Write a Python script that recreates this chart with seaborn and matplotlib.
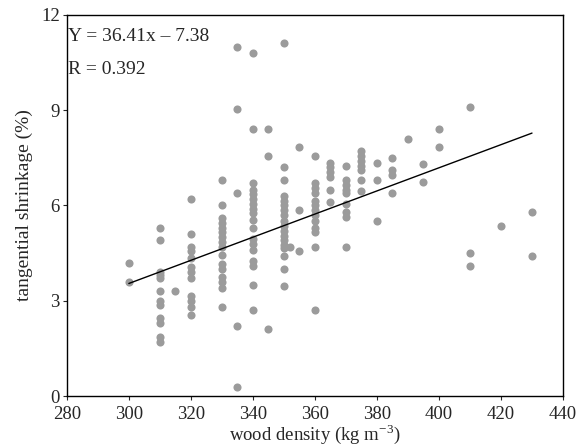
import pandas as pd
import seaborn as sns
import matplotlib.pyplot as plt

# wood density groups (kg m-3) and shrinkage readings (%) in each group
densities = [300, 310, 315, 320, 330, 335, 340, 345, 350, 352, 355,
             360, 365, 370, 375, 380, 385, 390, 395, 400, 410, 420, 430]
shrinkage = [
    [4.2, 3.6],
    [5.3, 4.9, 3.9, 3.8, 3.7, 3.3, 3.0, 2.85, 2.45, 2.3, 1.85, 1.7],
    [3.3],
    [6.2, 5.1, 4.7, 4.55, 4.35, 4.05, 3.9, 3.7, 3.15, 3.0, 2.8, 2.55],
    [6.8, 6.0, 5.6, 5.45, 5.3, 5.15, 5.0, 4.85, 4.7, 4.45, 4.15, 4.0, 3.75, 3.6, 3.4, 2.8],
    [11.0, 9.05, 6.4, 2.2, 0.3],
    [10.8, 8.4, 6.7, 6.5, 6.35, 6.2, 6.05, 5.9, 5.75, 5.55, 5.3, 4.95, 4.8, 4.6, 4.25, 4.1, 3.5, 2.7],
    [8.4, 7.55, 2.1],
    [11.1, 7.2, 6.8, 6.3, 6.15, 6.0, 5.85, 5.7, 5.5, 5.35, 5.2, 5.05, 4.9, 4.75, 4.65, 4.4, 4.0, 3.45],
    [4.7],
    [7.85, 5.85, 4.55],
    [7.55, 6.7, 6.55, 6.4, 6.15, 6.0, 5.85, 5.7, 5.5, 5.3, 5.15, 4.7, 2.7],
    [7.35, 7.2, 7.05, 6.9, 6.5, 6.1],
    [7.25, 6.8, 6.65, 6.5, 6.4, 6.05, 5.8, 5.65, 4.7],
    [7.7, 7.55, 7.4, 7.25, 7.1, 6.8, 6.45],
    [7.35, 6.8, 5.5],
    [7.5, 7.1, 6.95, 6.4],
    [8.1],
    [7.3, 6.75],
    [8.4, 7.85],
    [9.1, 4.5, 4.1],
    [5.35],
    [5.8, 4.4],
]

# fitted line given on the chart (x in g cm-3)
slope = 36.41
intercept = -7.38

rows = [(d, s) for d, vals in zip(densities, shrinkage) for s in vals]
df = pd.DataFrame(rows, columns=['density', 'shrinkage'])

sns.set_style('ticks')
plt.rcParams['font.family'] = ['Liberation Serif', 'DejaVu Serif']
plt.rcParams['mathtext.fontset'] = 'stix'

fig = plt.figure(figsize=(5.79, 4.48), dpi=100)
ax = fig.add_axes([0.1154, 0.116, 0.857, 0.851])

sns.scatterplot(data=df, x='density', y='shrinkage', ax=ax,
                color='#9b9b9b', s=34, linewidth=0, marker='o', zorder=2)

line_x = pd.Series([df['density'].min(), df['density'].max()])
line_y = slope * line_x / 1000 + intercept
ax.plot(line_x, line_y, color='black', lw=1.0, zorder=3)

ax.set_xlim(280, 440)
ax.set_ylim(0, 12)
ax.set_xticks(range(280, 441, 20))
ax.set_yticks([0, 3, 6, 9, 12])
ax.tick_params(labelsize=13.5, length=3, width=0.8, direction='out',
               top=False, right=False)
ax.tick_params(axis='x', pad=4)
ax.tick_params(axis='y', pad=2)
for sp in ax.spines.values():
    sp.set_visible(True)
    sp.set_linewidth(1.0)
    sp.set_color('black')

ax.set_xlabel(r'wood density (kg m$^{\mathregular{-3}}$)', fontsize=13.5, labelpad=0)
ax.set_ylabel('tangential shrinkage (%)', fontsize=14, labelpad=6)

ax.text(0.003, 0.965, 'Y = 36.41x – 7.38', transform=ax.transAxes,
        fontsize=14, va='top', ha='left')
ax.text(0.003, 0.88, 'R = 0.392', transform=ax.transAxes,
        fontsize=14, va='top', ha='left')

fig.savefig('out.png', dpi=100)
